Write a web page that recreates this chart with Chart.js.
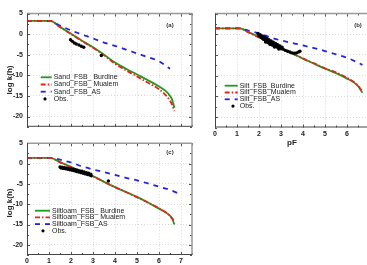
<!DOCTYPE html>
<html>
<head>
<meta charset="utf-8">
<script src="https://cdn.jsdelivr.net/npm/chart.js@4"></script>
<style>
    html, body { margin: 0; padding: 0; width: 367px; height: 265px; overflow: hidden; background: #fff; }
    canvas { position: absolute; }
</style>
</head>
<body>
<canvas id="chartA" width="200" height="135" style="left:0;top:0"></canvas>
<canvas id="chartB" width="200" height="150" style="left:185px;top:0"></canvas>
<canvas id="chartC" width="200" height="130" style="left:0;top:135px"></canvas>
<script>
// Axis ticks
const xTicks = [0, 1, 2, 3, 4, 5, 6, 7];
const yTicks = [5, 0, -5, -10, -15, -20];

// (a) Sand
const pfSand = [0, 0.5, 1.0, 1.05, 1.5, 2, 2.5, 3, 3.5, 4, 4.5, 5, 5.5, 6, 6.3, 6.5, 6.6, 6.7];
const sandBurdine = [3.2, 3.2, 3.2, 3.2, 1.75, 0.1, -1.6, -3.2, -5.0, -6.9, -8.4, -9.8, -11.2, -12.7, -13.8, -15.0, -16.0, -17.9];
const sandMualem = [3.2, 3.2, 3.2, 3.2, 1.7, 0.0, -1.7, -3.3, -5.1, -7.2, -8.8, -10.3, -11.8, -13.4, -14.8, -16.2, -17.2, -18.7];
const pfSandAS = [0, 0.5, 1.0, 1.05, 1.5, 2, 2.5, 3, 3.5, 4, 4.5, 5, 5.5, 6, 6.5];
const sandAS = [3.2, 3.2, 3.2, 3.2, 2.05, 0.9, -0.1, -1.05, -2.05, -2.85, -3.75, -4.7, -5.6, -6.6, -8.4];
const obsSandPF = [1.98, 2.06, 2.15, 2.24, 2.36, 2.47, 2.58, 3.38];
const obsSandK = [-1.36, -1.76, -2.16, -2.4, -2.64, -2.96, -3.2, -5.2];

// (b) Silt
const pfSilt = [0, 0.5, 1.0, 1.14, 1.5, 2, 2.5, 3, 3.5, 4, 4.5, 5, 5.5, 6, 6.3, 6.5, 6.7];
const siltBurdine = [1.4, 1.4, 1.4, 1.4, 0.55, -0.7, -2.1, -3.4, -4.55, -5.9, -7.1, -8.3, -9.4, -10.7, -11.6, -12.5, -14.1];
const siltMualem = [1.4, 1.4, 1.4, 1.4, 0.5, -0.8, -2.2, -3.5, -4.6, -5.9, -7.0, -8.2, -9.2, -10.5, -11.5, -12.4, -13.9];
const pfSiltAS = [0, 0.5, 1.0, 1.14, 1.5, 2, 2.5, 3, 3.5, 4, 4.5, 5, 5.5, 6, 6.4, 6.7];
const siltAS = [1.4, 1.4, 1.4, 1.4, 0.9, 0.2, -0.75, -1.5, -2.1, -2.7, -3.35, -4.05, -4.85, -5.7, -6.6, -7.4];
const obsSiltPF = [1.95, 2.05, 2.15, 2.25, 2.35, 2.45, 2.55, 2.65, 2.75, 2.85, 2.95, 3.05,
    2.0, 2.1, 2.2, 2.3, 2.4, 2.5, 2.6, 2.7, 2.8, 2.9, 3.0, 3.1,
    2.05, 2.15, 2.25, 2.35, 2.45, 2.55, 2.65, 2.75, 2.85, 2.95,
    2.3, 2.5, 2.7, 2.9,
    3.2, 3.3, 3.4, 3.5, 3.6, 3.7, 3.8, 3.86];
const obsSiltK = [0.2, -0.1, -0.4, -0.7, -1.0, -1.3, -1.6, -1.9, -2.2, -2.5, -2.8, -3.1,
    -0.4, -0.8, -1.2, -1.6, -2.0, -2.3, -2.6, -2.9, -3.1, -3.3, -3.5, -3.6,
    -0.3, -0.7, -1.05, -1.45, -1.75, -2.1, -2.35, -2.6, -2.85, -3.1,
    -1.9, -2.45, -3.1, -3.55,
    -3.9, -4.1, -4.3, -4.5, -4.6, -4.5, -4.3, -4.1];

// (c) Siltloam
const pfLoam = [0, 0.5, 1.0, 1.05, 1.5, 2, 2.5, 3, 3.5, 4, 4.5, 5, 5.5, 6, 6.3, 6.5, 6.6, 6.7];
const loamBurdine = [1.4, 1.4, 1.4, 1.4, 0.35, -0.8, -2.0, -3.1, -4.5, -5.8, -7.0, -8.2, -9.6, -11.1, -12.0, -12.8, -13.6, -15.0];
const loamMualem = [1.4, 1.4, 1.4, 1.4, 0.3, -0.9, -2.1, -3.2, -4.5, -5.8, -7.0, -8.3, -9.6, -11.0, -12.0, -12.9, -13.5, -14.3];
const pfLoamAS = [0, 0.5, 1.0, 1.05, 1.5, 2, 2.5, 3, 3.5, 4, 4.5, 5, 5.5, 6, 6.5, 6.95];
const loamAS = [1.4, 1.4, 1.4, 1.4, 0.95, 0.25, -0.7, -1.45, -2.1, -2.8, -3.5, -4.15, -4.9, -5.7, -6.5, -7.5];
const obsLoamPF = [1.5, 1.6, 1.7, 1.8, 1.9, 2.0, 2.1, 2.2, 2.3, 2.4, 2.5, 2.6, 2.7, 2.8, 2.9,
    1.55, 1.65, 1.75, 1.85, 1.95, 2.05, 2.15, 2.25, 2.35, 2.45, 2.55, 2.65, 2.75, 2.85, 2.92, 3.7];
const obsLoamK = [-0.85, -0.9, -1.0, -1.1, -1.2, -1.3, -1.4, -1.5, -1.65, -1.8, -1.9, -2.1, -2.25, -2.4, -2.6,
    -1.1, -1.2, -1.3, -1.4, -1.55, -1.65, -1.8, -1.95, -2.1, -2.25, -2.4, -2.55, -2.7, -2.85, -3.0, -4.3];

const GREEN = '#1f9a1f';
const RED = '#e8231e';
const BLUE = '#2323e0';
const FONT = "'Liberation Sans', Arial, sans-serif";

Chart.defaults.font.family = FONT;

const zip = (xs, ys) => xs.map((x, i) => ({ x: x, y: ys[i] }));

const lineSet = (label, xs, ys, color, dash, order) => ({
    label: label,
    data: zip(xs, ys),
    showLine: true,
    borderColor: color,
    backgroundColor: color,
    borderWidth: 1.8,
    borderDash: dash,
    pointRadius: 0,
    cubicInterpolationMode: 'monotone',
    order: order
});

const obsSet = (xs, ys) => ({
    label: 'Obs.',
    data: zip(xs, ys),
    showLine: false,
    pointRadius: 1.7,
    pointBorderWidth: 0,
    backgroundColor: '#000',
    borderColor: '#000',
    order: 0
});

// Frame, inward ticks, legend and titles
const decor = {
    id: 'decor',
    afterDraw(chart, args, opts) {
        const { ctx, chartArea: a, scales: { x, y } } = chart;
        const seg = (x1, y1, x2, y2) => { ctx.beginPath(); ctx.moveTo(x1, y1); ctx.lineTo(x2, y2); ctx.stroke(); };
        ctx.save();
        ctx.strokeStyle = '#555';
        ctx.lineWidth = 1;
        for (let v = 0; v <= 7.5; v += 0.5) {
            const px = Math.round(x.getPixelForValue(v)) + 0.5;
            const len = Number.isInteger(v) ? 3 : 2;
            seg(px, a.bottom, px, a.bottom - len);
            seg(px, a.top, px, a.top + len);
        }
        for (let v = -22.5; v <= 5; v += 2.5) {
            const py = Math.round(y.getPixelForValue(v)) + 0.5;
            const len = v % 5 === 0 ? 3 : 2;
            seg(a.left, py, a.left + len, py);
            seg(a.right, py, a.right - len, py);
        }
        // frame
        ctx.strokeStyle = '#999';
        ctx.lineWidth = 1.5;
        seg(a.left, a.top, a.right, a.top);
        seg(a.right, a.top, a.right, a.bottom);
        ctx.strokeStyle = '#444';
        ctx.lineWidth = 1;
        seg(a.left + 0.5, a.top, a.left + 0.5, a.bottom);
        seg(a.left, a.bottom - 0.5, a.right, a.bottom - 0.5);

        // legend
        const L = opts.legend;
        ctx.font = '7px ' + FONT;
        ctx.textBaseline = 'middle';
        chart.data.datasets.forEach((ds, i) => {
            const yy = L.y + i * L.dy;
            if (ds.showLine) {
                ctx.strokeStyle = ds.borderColor;
                ctx.lineWidth = ds.borderWidth;
                ctx.setLineDash(ds.borderDash || []);
                seg(L.x, yy, L.x + L.w, yy);
                ctx.setLineDash([]);
            } else {
                ctx.fillStyle = '#000';
                ctx.beginPath();
                ctx.arc(L.dot, yy, 1.6, 0, 2 * Math.PI);
                ctx.fill();
            }
            ctx.fillStyle = '#222';
            ctx.textAlign = 'left';
            ctx.fillText(ds.label, L.x + L.w + 2, yy);
        });

        // panel tag
        ctx.font = 'bold 6px ' + FONT;
        ctx.fillStyle = '#333';
        ctx.textAlign = 'center';
        ctx.fillText(opts.tag.text, opts.tag.x, opts.tag.y);

        if (opts.yTitle) {
            ctx.save();
            ctx.translate(opts.yTitle.x, opts.yTitle.y);
            ctx.rotate(-Math.PI / 2);
            ctx.font = 'bold 8px ' + FONT;
            ctx.fillStyle = '#222';
            ctx.textAlign = 'center';
            ctx.fillText('log k(h)', 0, 0);
            ctx.restore();
        }
        if (opts.xTitle) {
            ctx.font = 'bold 8px ' + FONT;
            ctx.fillStyle = '#222';
            ctx.textAlign = 'center';
            ctx.fillText('pF', opts.xTitle.x, opts.xTitle.y);
        }
        ctx.restore();
    }
};

const tickFont = { size: 7, weight: 'bold', family: FONT };

const makeOptions = (cfg) => ({
    responsive: false,
    animation: false,
    layout: { padding: cfg.padding },
    plugins: {
        legend: { display: false },
        tooltip: { enabled: false },
        decor: cfg.decor
    },
    scales: {
        x: {
            type: 'linear',
            min: 0,
            max: 7.5,
            afterBuildTicks: (s) => { s.ticks = xTicks.map(v => ({ value: v })); },
            afterFit: (s) => { s.height = cfg.xHeight; },
            ticks: { display: cfg.xLabels, padding: 2, font: tickFont, color: '#222', maxRotation: 0 },
            grid: { color: '#cfcfcf', lineWidth: 0.8, drawTicks: false },
            border: { display: false, dash: [1, 2] }
        },
        y: {
            type: 'linear',
            min: -22.5,
            max: 5,
            afterBuildTicks: (s) => { s.ticks = yTicks.map(v => ({ value: v })); },
            afterFit: (s) => { s.width = cfg.yWidth; },
            ticks: { display: cfg.yLabels, padding: 4, font: tickFont, color: '#222' },
            grid: { color: '#cfcfcf', lineWidth: 0.8, drawTicks: false },
            border: { display: false, dash: [1, 2] }
        }
    }
});

new Chart(document.getElementById('chartA'), {
    type: 'scatter',
    data: {
        datasets: [
            lineSet('Sand_FSB_ Burdine', pfSand, sandBurdine, GREEN, [], 3),
            lineSet('Sand_FSB_ Mualem', pfSand, sandMualem, RED, [5, 2, 1.5, 2], 1),
            lineSet('Sand_FSB_AS', pfSandAS, sandAS, BLUE, [5, 5], 2),
            obsSet(obsSandPF, obsSandK)
        ]
    },
    options: makeOptions({
        padding: { top: 13.5, right: 8, left: 0, bottom: 0 },
        xHeight: 7.5, yWidth: 27, xLabels: false, yLabels: true,
        decor: {
            legend: { x: 40.7, w: 11, dot: 45, y: 77.3, dy: 7.2 },
            tag: { text: '(a)', x: 170, y: 25 },
            yTitle: { x: 10, y: 80 }
        }
    }),
    plugins: [decor]
});

new Chart(document.getElementById('chartB'), {
    type: 'scatter',
    data: {
        datasets: [
            lineSet('Silt_FSB_Burdine', pfSilt, siltBurdine, GREEN, [], 3),
            lineSet('Silt_FSB_Mualem', pfSilt, siltMualem, RED, [5, 2, 1.5, 2], 1),
            lineSet('Silt_FSB_AS', pfSiltAS, siltAS, BLUE, [5, 5], 2),
            obsSet(obsSiltPF, obsSiltK)
        ]
    },
    options: makeOptions({
        padding: { top: 13.5, right: 5, left: 0, bottom: 0 },
        xHeight: 22.5, yWidth: 30, xLabels: true, yLabels: false,
        decor: {
            legend: { x: 39.7, w: 13, dot: 48, y: 85.7, dy: 6.8 },
            tag: { text: '(b)', x: 173, y: 25 },
            xTitle: { x: 107, y: 143 }
        }
    }),
    plugins: [decor]
});

new Chart(document.getElementById('chartC'), {
    type: 'scatter',
    data: {
        datasets: [
            lineSet('Siltloam_FSB_ Burdine', pfLoam, loamBurdine, GREEN, [], 3),
            lineSet('Siltloam_FSB_ Mualem', pfLoam, loamMualem, RED, [5, 2, 1.5, 2], 1),
            lineSet('Siltloam_FSB_AS', pfLoamAS, loamAS, BLUE, [5, 5], 2),
            obsSet(obsLoamPF, obsLoamK)
        ]
    },
    options: makeOptions({
        padding: { top: 6, right: 8, left: 0, bottom: 0 },
        xHeight: 10, yWidth: 27, xLabels: true, yLabels: true,
        decor: {
            legend: { x: 35, w: 15, dot: 43, y: 75.7, dy: 6.7 },
            tag: { text: '(c)', x: 170, y: 17.7 },
            yTitle: { x: 10, y: 68 }
        }
    }),
    plugins: [decor]
});
</script>
</body>
</html>
